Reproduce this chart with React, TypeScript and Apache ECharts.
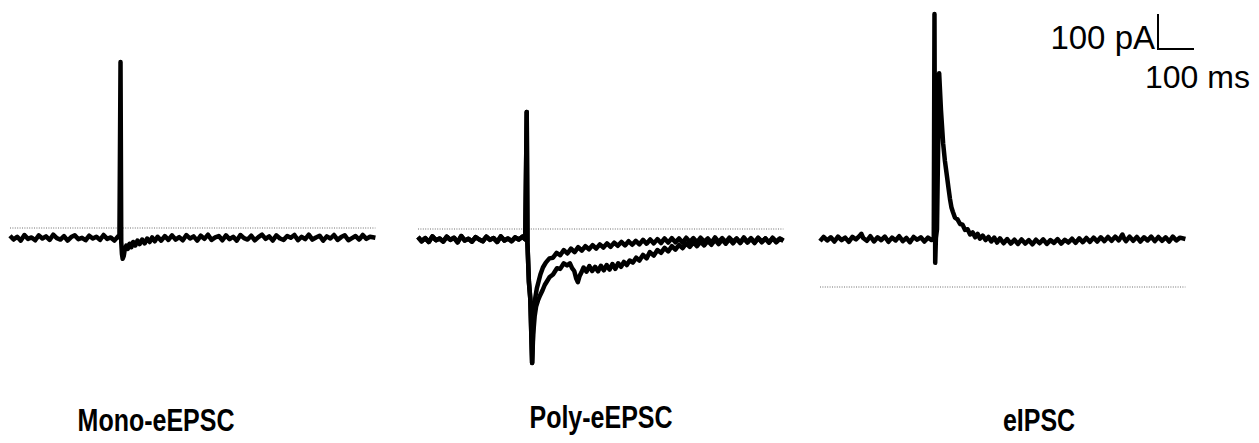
import React, { useEffect, useRef } from "react";
import * as echarts from "echarts";

// ---- Data (time in ms, current in pA relative to the dotted reference line) ----
const panelLabels = ["Mono-eEPSC", "Poly-eEPSC", "eIPSC"];
const scaleBarLabels = { current: "100 pA", time: "100 ms" };
const scaleBarValues = { current: 100, time: 100 };

const monoTrace: number[][] = [
  [0, -22], [10, -33], [20, -25], [30, -36], [40, -20], [50, -31], [60, -27], [70, -35], [80, -21], [90, -30],
  [100, -24], [110, -34], [120, -19], [130, -29], [140, -33], [150, -23], [160, -36], [170, -26], [180, -21], [190, -32],
  [200, -28], [210, -35], [220, -22], [230, -30], [240, -25], [250, -34], [260, -20], [270, -31], [280, -27], [290, -36],
  [300, -24], [304, -27], [307, 474], [309, -40], [311, -75], [313, -88], [316, -80], [319, -60], [323, -50], [327, -60],
  [332, -45], [337, -55], [342, -40], [348, -50], [354, -36], [360, -46], [367, -33], [374, -44], [381, -30], [388, -40],
  [395, -27], [402, -38], [410, -25], [420, -36], [430, -23], [440, -34], [450, -21], [460, -33], [470, -26], [480, -35],
  [490, -20], [500, -30], [510, -24], [520, -36], [530, -22], [540, -31], [550, -19], [560, -34], [570, -27], [580, -23],
  [590, -35], [600, -21], [610, -32], [620, -25], [630, -36], [640, -20], [650, -29], [660, -33], [670, -22], [680, -35],
  [690, -26], [700, -19], [710, -31], [720, -24], [730, -36], [740, -21], [750, -30], [760, -34], [770, -23], [780, -28],
  [790, -20], [800, -35], [810, -25], [820, -32], [830, -19], [840, -33], [850, -27], [860, -22], [870, -36], [880, -24],
  [890, -30], [900, -20], [910, -34], [920, -26], [930, -21], [940, -35], [950, -29], [960, -23], [970, -33], [980, -20],
  [990, -31], [1000, -25], [1015, -28],
];

const polyPre: number[][] = [
  [0, -23], [10, -35], [20, -26], [30, -37], [40, -21], [50, -32], [60, -27], [70, -36], [80, -22], [90, -31],
  [100, -25], [110, -38], [120, -20], [130, -33], [140, -28], [150, -36], [160, -23], [170, -30], [180, -35], [190, -22],
  [200, -31], [210, -26], [220, -37], [230, -21], [240, -33], [250, -27], [260, -35], [270, -24], [280, -30], [290, -22],
  [298, -30], [302, 334], [304, -40], [308, -150], [312, -200], [317, -383],
];

const polyFastTail: number[][] = [
  [320, -280], [323, -225], [326, -195], [330, -170], [335, -150], [340, -130], [347, -110], [355, -96], [365, -84], [375, -82],
  [385, -68], [395, -75], [405, -60], [415, -70], [425, -56], [435, -66], [445, -52], [455, -62], [465, -49], [475, -58],
  [485, -46], [495, -56], [505, -44], [515, -53], [525, -41], [535, -51], [545, -39], [555, -48], [565, -37], [575, -47],
  [585, -35], [595, -45], [605, -34], [615, -44], [625, -31], [635, -42], [645, -30], [655, -41], [665, -29], [675, -40],
  [685, -27], [695, -39], [705, -26], [715, -38], [725, -27], [735, -39], [745, -25], [755, -37], [765, -26], [775, -38],
  [785, -25], [795, -36], [805, -27], [815, -39], [825, -24], [835, -37], [845, -26], [855, -38], [865, -25], [875, -36],
  [885, -27], [895, -39], [905, -24], [915, -37], [925, -26], [935, -38], [945, -25], [955, -36], [965, -27], [975, -39],
  [985, -25], [995, -36], [1005, -27], [1015, -33],
];

const polySlowTail: number[][] = [
  [320, -300], [324, -250], [328, -222], [333, -205], [339, -190], [346, -175], [352, -160], [358, -150], [365, -138], [375, -130],
  [386, -112], [395, -114], [405, -98], [414, -104], [422, -98], [428, -112], [434, -120], [439, -140], [444, -152], [449, -134],
  [454, -124], [460, -110], [468, -122], [476, -106], [484, -120], [492, -108], [500, -121], [508, -105], [516, -118], [524, -103],
  [532, -116], [540, -100], [548, -114], [556, -98], [564, -108], [572, -94], [580, -103], [588, -90], [597, -96], [606, -82],
  [615, -90], [625, -74], [635, -84], [644, -66], [655, -76], [665, -60], [675, -68], [685, -54], [695, -64], [705, -49],
  [715, -59], [725, -45], [735, -55], [745, -41], [755, -51], [765, -38], [775, -49], [785, -36], [795, -47], [805, -34],
  [815, -45], [825, -31], [835, -43], [845, -30], [855, -42], [865, -29], [875, -41], [885, -28], [895, -40], [905, -27],
  [915, -39], [925, -28], [935, -40], [945, -26], [955, -38], [965, -27], [975, -39], [985, -26], [995, -38], [1005, -28],
  [1015, -34],
];

const ipscTrace: number[][] = [
  [0, 131], [10, 143], [20, 133], [30, 142], [40, 130], [50, 144], [60, 134], [70, 141], [80, 129], [90, 143],
  [100, 136], [110, 146], [115, 152], [120, 140], [130, 132], [140, 145], [150, 130], [160, 142], [170, 134], [180, 144],
  [190, 129], [200, 141], [210, 133], [220, 145], [230, 131], [240, 140], [250, 128], [260, 143], [270, 135], [280, 142],
  [290, 130], [300, 141], [310, 134], [316, 137], [318, 780], [320, 69], [322, 140], [325, 165], [331, 611], [336, 506],
  [342, 411], [347, 360], [353, 314], [357, 282], [361, 252], [365, 228], [369, 215], [375, 198], [382, 193], [389, 180],
  [396, 178], [403, 163], [410, 165], [417, 150], [424, 156], [431, 142], [438, 152], [444, 138], [452, 147], [460, 134],
  [468, 143], [476, 130], [484, 141], [492, 127], [500, 139], [510, 125], [520, 137], [530, 124], [540, 135], [550, 123],
  [560, 136], [570, 124], [580, 134], [590, 122], [600, 135], [610, 125], [620, 136], [630, 123], [640, 134], [650, 126],
  [660, 137], [670, 124], [680, 135], [690, 127], [700, 138], [710, 126], [720, 139], [730, 128], [740, 140], [750, 129],
  [760, 141], [770, 130], [780, 142], [790, 131], [800, 143], [810, 132], [820, 144], [830, 133], [840, 150], [845, 138],
  [850, 131], [860, 144], [870, 132], [880, 143], [890, 130], [900, 142], [910, 133], [920, 144], [930, 131], [940, 143],
  [950, 132], [960, 142], [970, 130], [980, 144], [990, 133], [1000, 141], [1015, 137],
];

const referenceLevel = 0; // dotted line (pA)
const traceDuration = 1015; // ms

// ---- Layout (pixels) ----
const W = 1259;
const H = 443;
const PX_PER_PA = 0.35;
const PX_PER_MS = 0.36;
const FONT = "'Liberation Sans', Arial, Helvetica, sans-serif";

const panels = [
  { left: 10, zeroY: 228, labelX: 156, labelY: 420, traces: [monoTrace] },
  { left: 418, zeroY: 229, labelX: 601, labelY: 417, traces: [[...polyPre, ...polyFastTail], [...polyPre, ...polySlowTail]] },
  { left: 820, zeroY: 287, labelX: 1039, labelY: 420, traces: [ipscTrace] },
];

export default function App() {
  const ref = useRef<HTMLDivElement>(null);

  useEffect(() => {
    document.body.style.margin = "0";
    if (!ref.current) return;
    const chart = echarts.init(ref.current, undefined, { renderer: "svg" });

    const grid: any[] = [];
    const xAxis: any[] = [];
    const yAxis: any[] = [];
    const series: any[] = [];

    panels.forEach((p, i) => {
      grid.push({
        left: p.left,
        top: 0,
        width: traceDuration * PX_PER_MS,
        height: H,
        outerBoundsMode: "none",
        containLabel: false,
      });
      xAxis.push({ type: "value", gridIndex: i, min: 0, max: traceDuration, show: false });
      yAxis.push({
        type: "value",
        gridIndex: i,
        min: -(H - p.zeroY) / PX_PER_PA,
        max: p.zeroY / PX_PER_PA,
        show: false,
      });
      series.push({
        type: "line",
        xAxisIndex: i,
        yAxisIndex: i,
        data: [[0, referenceLevel], [traceDuration, referenceLevel]],
        showSymbol: false,
        silent: true,
        lineStyle: { color: "#6e6e6e", width: 1, type: [1, 1.4] },
      });
      p.traces.forEach((tr) => {
        series.push({
          type: "line",
          xAxisIndex: i,
          yAxisIndex: i,
          data: tr,
          showSymbol: false,
          silent: true,
          clip: false,
          lineStyle: { color: "#000", width: 4.5, join: "round" },
        });
      });
    });

    const barX = 1158;
    const barBottom = 49;
    const barH = scaleBarValues.current * PX_PER_PA;
    const barW = scaleBarValues.time * PX_PER_MS;

    const graphic: any[] = [
      {
        type: "polyline",
        shape: { points: [[barX, barBottom - barH], [barX, barBottom], [barX + barW, barBottom]] },
        style: { stroke: "#000", lineWidth: 2, fill: null },
      },
      {
        type: "text",
        x: barX - 3,
        y: 37,
        style: {
          text: scaleBarLabels.current,
          font: `33px ${FONT}`,
          fill: "#000",
          align: "right",
          verticalAlign: "middle",
        },
      },
      {
        type: "text",
        x: 1145,
        y: 77,
        style: {
          text: scaleBarLabels.time,
          font: `32px ${FONT}`,
          fill: "#000",
          align: "left",
          verticalAlign: "middle",
        },
      },
      ...panels.map((p, i) => ({
        type: "text",
        x: p.labelX,
        y: p.labelY,
        scaleY: 1.25,
        style: {
          text: panelLabels[i],
          font: `bold 25px ${FONT}`,
          fill: "#000",
          align: "center",
          verticalAlign: "middle",
        },
      })),
    ];

    chart.setOption({
      animation: false,
      backgroundColor: "#fff",
      grid,
      xAxis,
      yAxis,
      series,
      graphic,
    });

    return () => chart.dispose();
  }, []);

  return <div ref={ref} style={{ width: W, height: H }} />;
}
